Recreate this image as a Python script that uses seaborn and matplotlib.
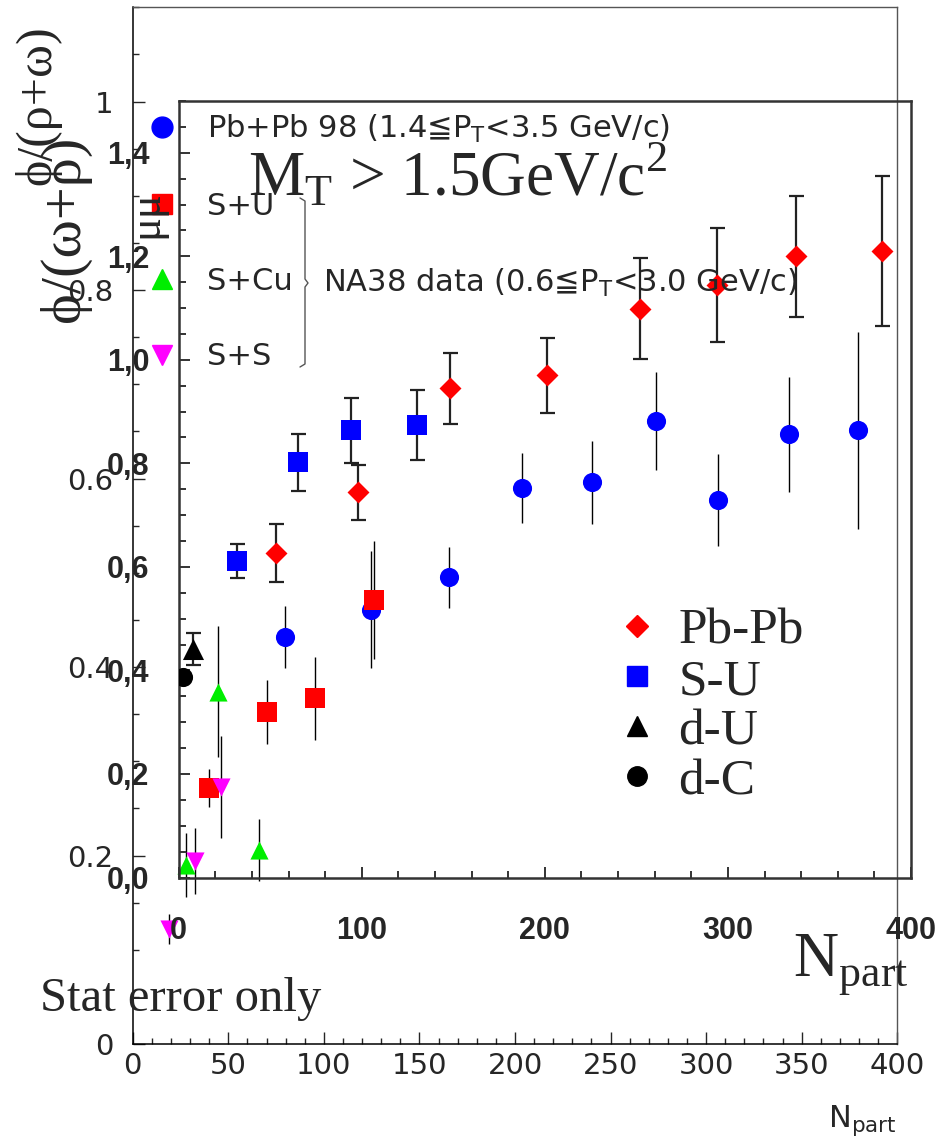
import numpy as np
import pandas as pd
import seaborn as sns
import matplotlib
matplotlib.use("Agg")
import matplotlib.pyplot as plt
from matplotlib.lines import Line2D
from matplotlib.ticker import MultipleLocator, FuncFormatter

# ---- inner plot data (M_T > 1.5 GeV/c^2) ----
pbpb_x = [53, 98, 148, 201, 252, 294, 337, 384]
pbpb_y = [0.626, 0.744, 0.945, 0.970, 1.099, 1.144, 1.200, 1.210]
pbpb_err = [0.056, 0.053, 0.069, 0.073, 0.098, 0.110, 0.117, 0.145]

su_x = [32, 65, 94, 130]
su_y = [0.611, 0.802, 0.864, 0.874]
su_err = [0.033, 0.055, 0.063, 0.068]

du_x = [7.6]
du_y = [0.442]
du_err = [0.031]

dc_x = [2.2]
dc_y = [0.388]

# ---- outer plot data (Pb+Pb 98 and NA38) ----
pb98_x = [79.7, 124.7, 165.5, 203.7, 240.4, 273.9, 306.3, 343.5, 379.6]
pb98_y = [0.432, 0.461, 0.495, 0.590, 0.596, 0.661, 0.577, 0.647, 0.651]
pb98_err = [0.033, 0.062, 0.032, 0.037, 0.044, 0.052, 0.049, 0.061, 0.105]

su38_x = [40.1, 70.1, 95.4, 126.3]
su38_y = [0.272, 0.352, 0.367, 0.471]
su38_err = [0.020, 0.034, 0.044, 0.063]

scu_x = [27.9, 44.8, 66.2]
scu_y = [0.190, 0.374, 0.206]
scu_err = [0.034, 0.070, 0.033]

ss_x = [19.2, 32.4, 46.2]
ss_y = [0.122, 0.194, 0.273]
ss_err = [0.016, 0.035, 0.054]

W, H = 942, 1140


def fx(px):
    return px / W


def fy(py):
    return 1 - py / H


sns.set_style("ticks")
plt.rcParams["font.family"] = ["DejaVu Sans"]
SERIF = ["Liberation Serif", "DejaVu Serif"]

fig = plt.figure(figsize=(W / 100, H / 100), dpi=100)
ax_out = fig.add_axes([fx(132.7), fy(1044), fx(897.3) - fx(132.7), fy(7.3) - fy(1044)])
ax_in = fig.add_axes([fx(178.7), fy(877.5), fx(911) - fx(178.7), fy(101) - fy(877.5)],
                     facecolor="none")

# ---------------- outer axes ----------------
outer_sets = [
    (pb98_x, pb98_y, pb98_err, "o", "#0000ff", 190),
    (su38_x, su38_y, su38_err, "s", "#ff0000", 190),
    (scu_x, scu_y, scu_err, "^", "#00ee00", 170),
    (ss_x, ss_y, ss_err, "v", "#ff00ff", 170),
]
for xs, ys, es, mk, col, sz in outer_sets:
    ax_out.errorbar(xs, ys, yerr=es, fmt="none", ecolor="black", elinewidth=1.0, capsize=0, zorder=2)
    sns.scatterplot(x=xs, y=ys, ax=ax_out, marker=mk, color=col, s=sz, linewidth=0, zorder=3)

ax_out.set_xlim(0, 400)
ax_out.set_ylim(0, 1.1)
ax_out.xaxis.set_major_locator(MultipleLocator(50))
ax_out.xaxis.set_minor_locator(MultipleLocator(10))
ax_out.yaxis.set_major_locator(MultipleLocator(0.2))
ax_out.yaxis.set_minor_locator(MultipleLocator(0.05))
ax_out.yaxis.set_major_formatter(FuncFormatter(lambda v, p: f"{v:g}"))
ax_out.tick_params(which="both", direction="in", width=1, labelsize=21)
ax_out.tick_params(which="major", length=8.6)
ax_out.tick_params(which="minor", length=4.3)
ax_out.tick_params(axis="y", pad=14)
ax_out.tick_params(axis="x", pad=6)
for s in ["left", "bottom"]:
    ax_out.spines[s].set_linewidth(1.1)
    ax_out.spines[s].set_color("black")
for s in ["top", "right"]:
    ax_out.spines[s].set_linewidth(1.0)
    ax_out.spines[s].set_color("#555555")
    ax_out.spines[s].set_visible(True)

out_handles = [Line2D([], [], ls="none", marker=mk, color=col, markersize=15)
               for _, _, _, mk, col, _ in outer_sets]
out_labels = ["Pb+Pb 98 (1.4\u2266P$_\\mathregular{T}$<3.5 GeV/c)", "S+U", "S+Cu", "S+S"]
leg_out = ax_out.legend(out_handles, out_labels, loc="upper left",
                        bbox_to_anchor=(fx(147), fy(113)), bbox_transform=fig.transFigure,
                        frameon=False, fontsize=22, borderpad=0, borderaxespad=0,
                        handlelength=0.95, handletextpad=1.0, labelspacing=1.52)

# brace joining the NA38 entries
brace_px = [(300, 198), (305, 201), (305, 279), (308, 283), (305, 287), (305, 364), (300, 367)]
fig.add_artist(Line2D([fx(p[0]) for p in brace_px], [fy(p[1]) for p in brace_px],
                      transform=fig.transFigure, color="#555555", lw=1.0))
fig.text(fx(323), fy(283), "NA38 data (0.6\u2266P$_\\mathregular{T}$<3.0 GeV/c)",
         fontsize=22, ha="left", va="center")

# ---------------- inner axes ----------------
for xs, ys, es in [(pbpb_x, pbpb_y, pbpb_err), (su_x, su_y, su_err), (du_x, du_y, du_err)]:
    ax_in.errorbar(xs, ys, yerr=es, fmt="none", ecolor="#222222",
                   elinewidth=1.6, capsize=5.4, capthick=1.6, zorder=2)

inner_sets = [
    (pbpb_x, pbpb_y, "D", "#ff0000", 125, "Pb-Pb"),
    (su_x, su_y, "s", "#0000ff", 200, "S-U"),
    (du_x, du_y, "^", "black", 230, "d-U"),
    (dc_x, dc_y, "o", "black", 190, "d-C"),
]
for xs, ys, mk, col, sz, lab in inner_sets:
    sns.scatterplot(x=xs, y=ys, ax=ax_in, marker=mk, color=col, s=sz, linewidth=0, zorder=3)

ax_in.set_xlim(0, 400)
ax_in.set_ylim(0, 1.5)
ax_in.xaxis.set_major_locator(MultipleLocator(100))
ax_in.xaxis.set_minor_locator(MultipleLocator(20))
ax_in.yaxis.set_major_locator(MultipleLocator(0.2))
ax_in.yaxis.set_minor_locator(MultipleLocator(0.05))
ax_in.xaxis.set_major_formatter(FuncFormatter(lambda v, p: f"{v:g}"))
ax_in.yaxis.set_major_formatter(FuncFormatter(lambda v, p: f"{v:.1f}".replace(".", ",")))
ax_in.tick_params(which="both", direction="in", width=1.4, color="#333333", labelsize=22)
ax_in.tick_params(which="major", length=8)
ax_in.tick_params(which="minor", length=5)
ax_in.tick_params(axis="y", pad=21)
ax_in.tick_params(axis="x", pad=28)
for s in ax_in.spines.values():
    s.set_visible(True)
    s.set_linewidth(1.8)
    s.set_color("#333333")
for lab in ax_in.get_xticklabels() + ax_in.get_yticklabels():
    lab.set_fontweight("bold")
    lab.set_family(["Liberation Sans", "DejaVu Sans"])

in_handles = [Line2D([], [], ls="none", marker=mk, color=col,
                     markersize=11 if mk == "D" else 14)
              for _, _, mk, col, _, _ in inner_sets]
in_labels = [lab for *_, lab in inner_sets]
leg_in = ax_in.legend(in_handles, in_labels, loc="upper left",
                      bbox_to_anchor=(fx(621.6), fy(608)), bbox_transform=fig.transFigure,
                      frameon=False, prop={"family": SERIF, "size": 37}, borderpad=0,
                      borderaxespad=0, handlelength=0.6, handletextpad=0.5, labelspacing=0.06)

fig.text(fx(248), fy(196), "M$_\\mathregular{T}$ > 1.5GeV/c$^\\mathregular{2}$",
         family=SERIF, fontsize=45.5, ha="left", va="baseline")
fig.text(fx(793), fy(976), "N$_\\mathregular{part}$", family=SERIF, fontsize=45,
         ha="left", va="baseline")
fig.text(fx(40), fy(1011), "Stat error only", family=SERIF, fontsize=35,
         ha="left", va="baseline")
fig.text(fx(828), fy(1127), "N$_\\mathregular{part}$", fontsize=22, ha="left", va="baseline")

# y labels (outer and inner overlap, as in the source)
fig.text(fx(38), fy(185), "\u03d5/(\u03c1+\u03c9)", family=SERIF, fontsize=36,
         rotation=90, ha="center", va="bottom")
fig.text(fx(65), fy(322), "\u03d5/(\u03c9+\u03c1)", family=SERIF, fontsize=42,
         rotation=90, ha="center", va="bottom")
fig.text(fx(146), fy(214), "\u03bc\u03bc", family=SERIF, fontsize=32,
         rotation=90, ha="center", va="center")

fig.savefig("out.png", dpi=100)
